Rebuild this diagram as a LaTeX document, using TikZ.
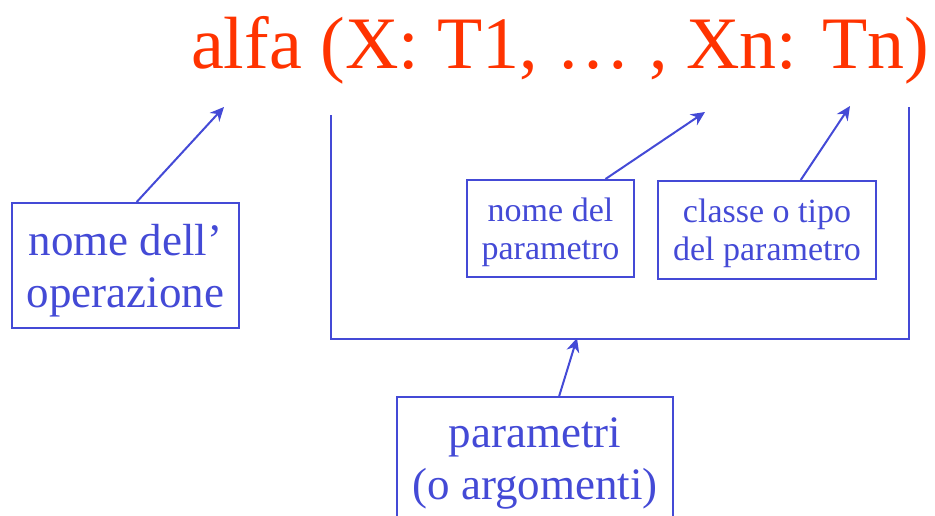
\documentclass[tikz,border=0pt]{standalone}
\usepackage{fontspec}
\setmainfont{Liberation Serif}
\usepackage{xcolor}
\usepackage{tikz}
\usetikzlibrary{positioning, arrows.meta}

\definecolor{lineblue}{RGB}{68,74,214}
\definecolor{titlered}{RGB}{255,51,0}

\begin{document}
\begin{tikzpicture}[x=0.5pt, y=-0.5pt,
    box/.style={draw=lineblue, line width=1pt, text=lineblue, align=center, inner sep=0pt, text depth=0pt},
    bigtext/.style={font=\fontsize{22.5}{26}\selectfont},
    smalltext/.style={font=\fontsize{17}{19}\selectfont},
    link/.style={draw=lineblue, line width=1pt, -{Stealth[length=7pt, width=6.5pt]}}]
    \useasboundingbox (0,0) rectangle (935,515);

    % firma dell'operazione
    \node[anchor=base, inner sep=0pt, text=titlered, font=\fontsize{37}{40}\selectfont] (title) at (560,68) {alfa (X: T1, … , Xn: Tn)};

    % riquadri
    \node[box, bigtext, minimum width=113.5pt, minimum height=62.5pt] (opname) at (125.5,265.5) {nome dell’\\operazione};
    \node[box, smalltext, minimum width=83.5pt, minimum height=48.5pt] (parname) at (550.5,228.5) {nome del\\parametro};
    \node[box, smalltext, minimum width=109pt, minimum height=49pt] (partype) at (767,230) {classe o tipo\\del parametro};
    \node[box, bigtext, minimum width=138pt, minimum height=62pt] (params) at (535,459) {parametri\\(o argomenti)};

    % parentesi sotto la lista dei parametri
    \coordinate (bl) at (331,115);
    \coordinate (br) at (909,107);
    \draw[draw=lineblue, line width=1pt] (bl) -- (331,339) -- (909,339) -- (br);

    % punte delle frecce
    \coordinate (opTip) at (224,107);
    \coordinate (nameTip) at (705,112);
    \coordinate (typeTip) at (850,106);
    \coordinate (parTip) at (577,338);

    \draw[link] (opname.80) -- (opTip);
    \draw[link] (parname.42) -- (nameTip);
    \draw[link] (partype.56) -- (typeTip);
    \draw[link] (params.69.5) -- (parTip);
\end{tikzpicture}
\end{document}
